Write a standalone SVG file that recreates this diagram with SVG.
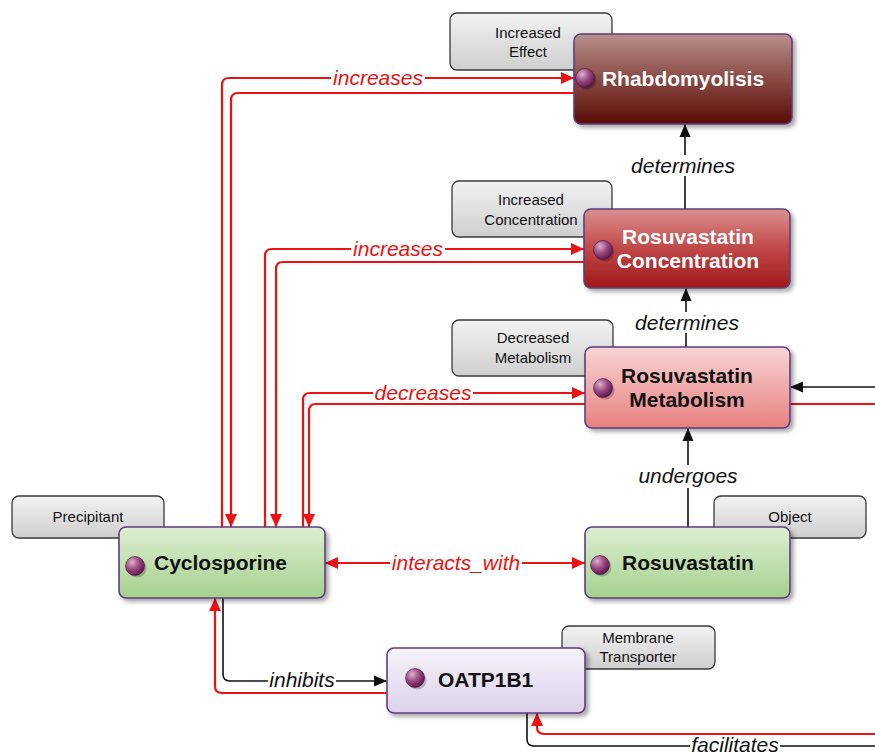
<svg xmlns="http://www.w3.org/2000/svg" width="875" height="755" viewBox="0 0 875 755">
<defs>
<style>
.lbl{fill:url(#gGray);stroke:#3a3a3a;stroke-width:1.3}
.lt{font-family:"Liberation Sans",Arial,sans-serif;font-size:15px;fill:#111;text-anchor:middle}
.node{stroke:#5e3e7e;stroke-width:1.6}
.nt{font-family:"Liberation Sans",Arial,sans-serif;font-size:21px;font-weight:bold}
.w{fill:#fff}
.b{fill:#111}
.red{fill:none;stroke:#ee1111;stroke-width:2.2}
.blk{fill:none;stroke:#111;stroke-width:1.6}
.el{font-family:"Liberation Sans",Arial,sans-serif;font-size:21px;font-style:italic;text-anchor:middle}
.bg{fill:#fff}
.er{fill:#ee1111}
.eb{fill:#111}
</style>
<linearGradient id="gGray" x1="0" y1="0" x2="0" y2="1"><stop offset="0" stop-color="#f2f2f2"/><stop offset="1" stop-color="#cfcfcf"/></linearGradient>
<linearGradient id="gRh" x1="0" y1="0" x2="0" y2="1"><stop offset="0" stop-color="#b8908c"/><stop offset="0.5" stop-color="#8a4a44"/><stop offset="1" stop-color="#5a0c06"/></linearGradient>
<linearGradient id="gCo" x1="0" y1="0" x2="0" y2="1"><stop offset="0" stop-color="#dc9090"/><stop offset="0.5" stop-color="#c04848"/><stop offset="1" stop-color="#a01818"/></linearGradient>
<linearGradient id="gMe" x1="0" y1="0" x2="0" y2="1"><stop offset="0" stop-color="#f8d4d4"/><stop offset="1" stop-color="#e88080"/></linearGradient>
<linearGradient id="gGr" x1="0" y1="0" x2="0" y2="1"><stop offset="0" stop-color="#dcefd2"/><stop offset="1" stop-color="#a6d08e"/></linearGradient>
<linearGradient id="gLa" x1="0" y1="0" x2="0" y2="1"><stop offset="0" stop-color="#f6f2fa"/><stop offset="1" stop-color="#dcd2ea"/></linearGradient>
<radialGradient id="gBall" cx="0.35" cy="0.3" r="0.75"><stop offset="0" stop-color="#e0b0d0"/><stop offset="0.5" stop-color="#9a4a80"/><stop offset="1" stop-color="#5a1448"/></radialGradient>
<filter id="sh" x="-10%" y="-10%" width="125%" height="130%"><feDropShadow dx="3" dy="3" stdDeviation="2" flood-color="#000" flood-opacity="0.35"/></filter>
<marker id="ar" markerUnits="userSpaceOnUse" markerWidth="14" markerHeight="14" viewBox="0 0 14 14" refX="13" refY="7" orient="auto"><path d="M0,1 L13,7 L0,13 Z" fill="#ee1111"/></marker>
<marker id="ab" markerUnits="userSpaceOnUse" markerWidth="14" markerHeight="14" viewBox="0 0 14 14" refX="13" refY="7" orient="auto"><path d="M0,1.5 L13,7 L0,12.5 Z" fill="#111"/></marker>
<marker id="ars" markerUnits="userSpaceOnUse" markerWidth="14" markerHeight="14" viewBox="0 0 14 14" refX="1" refY="7" orient="auto"><path d="M14,1 L1,7 L14,13 Z" fill="#ee1111"/></marker>
<g id="ball"><circle cx="2" cy="2" r="9.5" fill="#000" opacity="0.22"/><circle cx="0" cy="0" r="9.5" fill="url(#gBall)" stroke="#4a1040" stroke-width="0.6"/></g>
</defs>
<rect width="875" height="755" fill="#fff"/>

<g id="labels">
<rect class="lbl" x="450" y="13" width="162" height="57" rx="7"/>
<text class="lt" x="528" y="38">Increased</text><text class="lt" x="528" y="57">Effect</text>
<rect class="lbl" x="452" y="181" width="160" height="56" rx="7"/>
<text class="lt" x="531" y="205">Increased</text><text class="lt" x="531" y="225">Concentration</text>
<rect class="lbl" x="452" y="320" width="161" height="56" rx="7"/>
<text class="lt" x="533" y="343">Decreased</text><text class="lt" x="533" y="363">Metabolism</text>
<rect class="lbl" x="12" y="496" width="152" height="42" rx="7"/>
<text class="lt" x="88" y="522">Precipitant</text>
<rect class="lbl" x="714" y="496" width="152" height="42" rx="7"/>
<text class="lt" x="790" y="522">Object</text>
<rect class="lbl" x="562" y="626" width="153" height="43" rx="7"/>
<text class="lt" x="638" y="643">Membrane</text><text class="lt" x="638" y="662">Transporter</text>
</g>

<g id="connectors">
<!-- increases Rhabdomyolisis -->
<path class="red" d="M222,527 V85 Q222,78 229,78 H574" marker-end="url(#ar)"/>
<path class="red" d="M574,93 H238 Q231,93 231,100 V527" marker-end="url(#ar)"/>
<rect class="bg" x="331" y="68" width="94" height="20"/>
<text class="el er" x="378" y="85">increases</text>
<!-- increases Concentration -->
<path class="red" d="M265,527 V256 Q265,249 272,249 H584" marker-end="url(#ar)"/>
<path class="red" d="M584,262 H283 Q276,262 276,269 V527" marker-end="url(#ar)"/>
<rect class="bg" x="351" y="239" width="94" height="20"/>
<text class="el er" x="398" y="256">increases</text>
<!-- decreases Metabolism -->
<path class="red" d="M303,527 V400 Q303,393 310,393 H585" marker-end="url(#ar)"/>
<path class="red" d="M585,404 H316 Q309,404 309,411 V527" marker-end="url(#ar)"/>
<rect class="bg" x="373" y="383" width="100" height="19"/>
<text class="el er" x="423" y="400">decreases</text>
<!-- interacts_with -->
<path class="red" d="M325,563 H585" marker-start="url(#ars)" marker-end="url(#ar)"/>
<rect class="bg" x="390" y="552" width="132" height="24"/>
<text class="el er" x="456" y="570">interacts_with</text>
<!-- inhibits -->
<path class="blk" d="M223,598 V674 Q223,681 230,681 H387" marker-end="url(#ab)"/>
<path class="red" d="M387,693 H222 Q215,693 215,686 V598" marker-end="url(#ar)"/>
<rect class="bg" x="268" y="671" width="68" height="19"/>
<text class="el eb" x="302" y="687">inhibits</text>
<!-- facilitates -->
<path class="blk" d="M527,713 V739 Q527,746 534,746 H880"/>
<path class="blk" d="M880,387 H790" marker-end="url(#ab)"/>
<path class="red" d="M880,734 H544 Q537,734 537,727 V713" marker-end="url(#ar)"/>
<path class="red" d="M790,404 H880"/>
<rect class="bg" x="690" y="737" width="90" height="18"/>
<text class="el eb" x="735" y="752">facilitates</text>
<!-- determines -->
<path class="blk" d="M685,209 V124" marker-end="url(#ab)"/>
<rect class="bg" x="630" y="155" width="108" height="21"/>
<text class="el eb" x="683" y="173">determines</text>
<path class="blk" d="M686,347 V288" marker-end="url(#ab)"/>
<rect class="bg" x="634" y="312" width="106" height="21"/>
<text class="el eb" x="687" y="330">determines</text>
<!-- undergoes -->
<path class="blk" d="M688,527 V428" marker-end="url(#ab)"/>
<rect class="bg" x="637" y="465" width="102" height="23"/>
<text class="el eb" x="688" y="483">undergoes</text>
</g>

<g id="n-rhabdo">
<rect class="node" x="574" y="34" width="218" height="90" rx="7" fill="url(#gRh)" filter="url(#sh)"/>
<use href="#ball" x="585" y="78"/>
<text class="nt w" x="683" y="86" text-anchor="middle">Rhabdomyolisis</text>
</g>
<g id="n-conc">
<rect class="node" x="584" y="209" width="206" height="79" rx="7" fill="url(#gCo)" filter="url(#sh)"/>
<use href="#ball" x="603" y="250"/>
<text class="nt w" x="688" y="244" text-anchor="middle">Rosuvastatin</text>
<text class="nt w" x="688" y="268" text-anchor="middle">Concentration</text>
</g>
<g id="n-metab">
<rect class="node" x="585" y="347" width="205" height="81" rx="7" fill="url(#gMe)" filter="url(#sh)"/>
<use href="#ball" x="603" y="388"/>
<text class="nt b" x="687" y="383" text-anchor="middle">Rosuvastatin</text>
<text class="nt b" x="687" y="407" text-anchor="middle">Metabolism</text>
</g>
<g id="n-cyclo">
<rect class="node" x="119" y="527" width="206" height="71" rx="7" fill="url(#gGr)" filter="url(#sh)"/>
<use href="#ball" x="135" y="566"/>
<text class="nt b" x="154" y="570">Cyclosporine</text>
</g>
<g id="n-rosu">
<rect class="node" x="585" y="527" width="205" height="71" rx="7" fill="url(#gGr)" filter="url(#sh)"/>
<use href="#ball" x="600" y="565"/>
<text class="nt b" x="622" y="570">Rosuvastatin</text>
</g>
<g id="n-oatp">
<rect class="node" x="387" y="648" width="198" height="65" rx="7" fill="url(#gLa)" filter="url(#sh)"/>
<use href="#ball" x="415" y="678"/>
<text class="nt b" x="438" y="687">OATP1B1</text>
</g>
</svg>
